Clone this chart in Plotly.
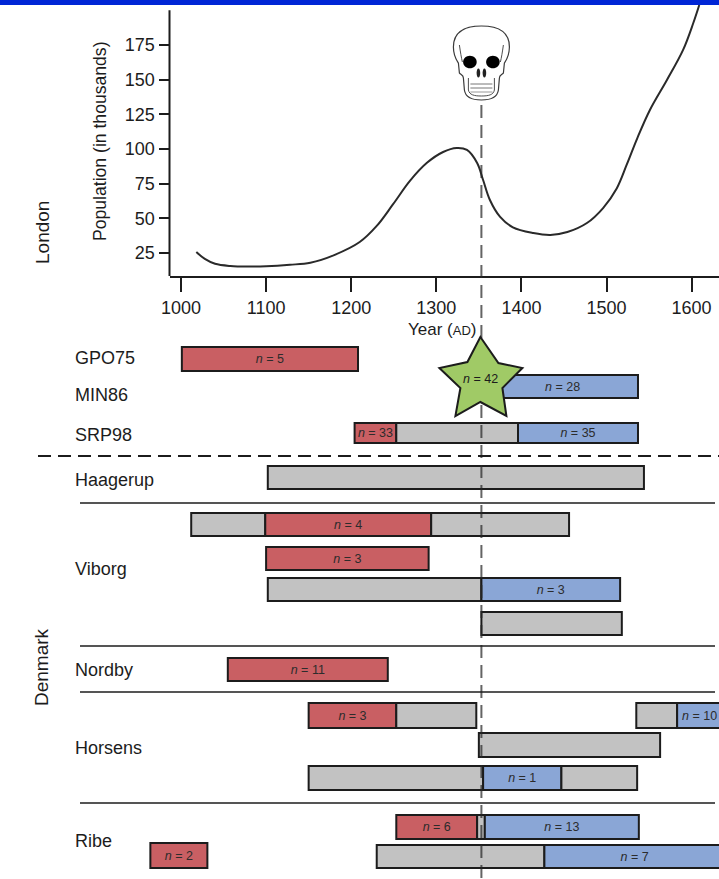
import plotly.graph_objects as go

# ---------- data ----------
years = [1018,1028,1040,1058,1081,1100,1128,1152,1180,1210,1230,1249,1269,1289,1308,1324,1336,1348,1355,1363,1375,1390,1414,1434,1454,1477,1496,1512,1524,1536,1551,1571,1590,1602,1609]
population = [25.7,20.7,17.2,15.6,15.2,15.4,16.5,18,23.5,32.9,44.5,60,77,90,97.8,100.7,99.3,89.9,77.6,63.2,51,43.5,39.4,38,40.1,46.6,57.4,71.5,89,107.5,128.1,149.7,171.4,190.8,203.8]
x_ticks = [1000,1100,1200,1300,1400,1500,1600]
y_ticks = [25,50,75,100,125,150,175]
plague_year = 1353

site_names = ["GPO75","MIN86","SRP98","Haagerup","Viborg","Nordby","Horsens","Ribe"]
bar_start = [1001,1360,1204,1253,1396,1102,1012,1099,1294,1100,1102,1353,1353,1055,1150,1253,1535,1583,1350,1150,1355,1447,1253,1348,1357,1230,1427,964]
bar_end   = [1208,1537,1253,1396,1537,1544,1099,1294,1456,1291,1353,1516,1518,1243,1253,1347,1583,1636,1563,1355,1447,1536,1348,1357,1538,1427,1639,1031]
bar_kind  = ["r","b","r","g","b","g","g","r","g","r","g","b","g","r","r","g","g","b","g","g","b","g","r","g","b","g","b","r"]
bar_n     = [5,28,33,None,35,None,None,4,None,3,None,3,None,11,3,None,None,10,None,None,1,None,6,None,13,None,7,2]
bar_track = [0,1,2,2,2,3,4,4,4,5,6,6,7,8,9,9,9,9,10,11,11,11,12,12,12,13,13,14]
star_n = 42

# ---------- layout helpers ----------
W, H = 719, 879
PX_PER_YEAR = 0.851
def year_at(px):
    return 1000 + (px - 181) / PX_PER_YEAR

track_center = [359,386.5,433,477.5,524.5,558.5,589.5,623.5,669.5,715.5,745,778,827,856.5,855.5]
track_height = [24,23,20,23,23,23,23,23,23,25,24,24,24,23,25]
colors = {"r":"#c95f63","g":"#c2c2c2","b":"#8aa6d6"}
INK = "#1c1c1c"
FONT = "Liberation Sans"

fig = go.Figure()
fig.add_trace(go.Scatter(x=years, y=population, mode="lines", xaxis="x", yaxis="y",
                         line=dict(color="#2a2a2a", width=2, shape="spline", smoothing=1.0),
                         hoverinfo="skip"))
for s, e, k, n, t in zip(bar_start, bar_end, bar_kind, bar_n, bar_track):
    fig.add_trace(go.Bar(orientation="h", base=[s], x=[e - s], y=[track_center[t]],
                         width=[track_height[t]], xaxis="x2", yaxis="y2",
                         marker=dict(color=colors[k], line=dict(color=INK, width=2)),
                         text=[f"<i>n</i> = {n}" if n is not None else ""],
                         textposition="inside", insidetextanchor="middle", textangle=0,
                         constraintext="none",
                         textfont=dict(family=FONT, size=12.5, color="#2c2c2c"),
                         hoverinfo="skip"))
fig.add_trace(go.Scatter(x=[plague_year, plague_year], y=[105, 879], mode="lines", xaxis="x2", yaxis="y2",
                         line=dict(color="rgba(40,40,40,0.72)", width=2, dash="13px,7px"), hoverinfo="skip"))

shapes = []
shapes.append(dict(type="rect", xref="paper", yref="paper", x0=0, x1=1, y0=1 - 5 / H, y1=1,
                   fillcolor="#0026d6", line_width=0, layer="above"))
shapes.append(dict(type="line", xref="paper", yref="y", x0=169.5 / W, x1=169.5 / W, y0=8.4, y1=200,
                   line=dict(color=INK, width=2)))
shapes.append(dict(type="line", xref="paper", yref="y2", x0=38 / W, x1=1, y0=456, y1=456,
                   line=dict(color=INK, width=2, dash="13px,7px")))
for yy in [503, 646, 692, 803]:
    shapes.append(dict(type="line", xref="paper", yref="y2", x0=80 / W, x1=715 / W, y0=yy, y1=yy,
                       line=dict(color=INK, width=1.5)))

# icons drawn in pixels around an anchor on the plague year
def icon(path, fill, lw=1.0, color="#3a3a3a"):
    return dict(type="path", xref="x2", yref="y2", xsizemode="pixel", ysizemode="pixel",
                xanchor=plague_year, yanchor=0, path=path, fillcolor=fill,
                line=dict(color=color, width=lw), layer="above")
def pt(dx, py):
    return f"{dx},{-py}"
def curve(cmds):
    return " ".join(c + " ".join(pt(*p) for p in pts) for c, pts in cmds)

# star
star_pts = [(-1,337),(17,363),(41,368),(21,388),(25,416),(-1,402),(-26,416),(-21,388),(-42,368),(-14,362)]
star_cmds = [("M",[star_pts[0]])] + [("L",[p]) for p in star_pts[1:]]
shapes.append(icon(curve(star_cmds) + " Z", "#a0ca66", 2, INK))

outline = curve([("M",[(-28,47)]),("C",[(-28,30),(-14,26),(0,26)]),("C",[(14,26),(28,30),(28,47)]),
                 ("C",[(28,56),(25,60),(23,63)]),("L",[(22,73)]),("C",[(20,75),(18,75),(18,78)]),
                 ("L",[(17,90)]),("C",[(16,97),(10,100),(0,100)]),("C",[(-10,100),(-16,97),(-17,90)]),
                 ("L",[(-18,78)]),("C",[(-18,75),(-20,75),(-22,73)]),("L",[(-23,63)]),
                 ("C",[(-25,60),(-28,56),(-28,47)])]) + " Z"
shapes.append(icon(outline, "#ffffff", 1.2))
def blob(cx, cy, rx, ry):
    k = 0.55
    return curve([("M",[(cx-rx,cy)]),("C",[(cx-rx,cy-k*ry),(cx-k*rx,cy-ry),(cx,cy-ry)]),
                  ("C",[(cx+k*rx,cy-ry),(cx+rx,cy-k*ry),(cx+rx,cy)]),
                  ("C",[(cx+rx,cy+k*ry),(cx+k*rx,cy+ry),(cx,cy+ry)]),
                  ("C",[(cx-k*rx,cy+ry),(cx-rx,cy+k*ry),(cx-rx,cy)])]) + " Z"
for ex in (-11.5, 11.5):
    shapes.append(icon(blob(ex, 62, 6.8, 6.3), "#000000", 0, "#000000"))
for nx in (-3, 3):
    shapes.append(icon(blob(nx, 73, 1.8, 4.5), "#222222", 0, "#222222"))
for sx in (-1, 1):
    shapes.append(icon(curve([("M",[(sx*22,45)]),("C",[(sx*21,52),(sx*20,58),(sx*19,62)])]), "rgba(0,0,0,0)", 0.9))
shapes.append(icon(curve([("M",[(-13,78)]),("L",[(-13,90)]),("C",[(-12,95),(-7,96),(0,96)]),
                          ("C",[(7,96),(12,95),(13,90)]),("L",[(13,78)])]), "rgba(0,0,0,0)", 0.9))
for ty, tc in ((84, "#777777"), (88, "#777777"), (92, "#999999")):
    shapes.append(icon(curve([("M",[(-11,ty)]),("L",[(11,ty)])]), "rgba(0,0,0,0)", 1.0, tc))

# ---------- labels ----------
ann = []
def label(text, px, py, size=18, angle=0, anchor="left"):
    ann.append(dict(text=text, xref="paper", yref="paper", x=px / W, y=1 - py / H, showarrow=False,
                    xanchor=anchor, yanchor="middle", textangle=angle, xshift=0,
                    font=dict(family=FONT, size=size, color=INK)))
site_y = [358, 395, 435, 480, 569, 670, 748, 841]
for name, py in zip(site_names, site_y):
    label(name, 73, py)
label("London", 42, 233, size=19, angle=-90, anchor="center")
label("Denmark", 41, 667, size=19, angle=-90, anchor="center")
label("Population (in thousands)", 100, 141, size=17.6, angle=-90, anchor="center")
label('Year (<span style="font-size:13px">AD</span>)', 442, 329, size=17, anchor="center")
label(f"<i>n</i> = {star_n}", 480, 379, size=12.5, anchor="center")

tickfont = dict(family=FONT, size=18, color=INK)
fig.update_layout(
    width=W, height=H, margin=dict(l=0, r=0, t=0, b=0, pad=0, autoexpand=False), autosize=False,
    paper_bgcolor="#ffffff", plot_bgcolor="rgba(0,0,0,0)", showlegend=False, barmode="overlay",
    xaxis=dict(domain=[169.5 / W, 1], range=[year_at(169.5), year_at(W)], anchor="y",
               tickmode="array", tickvals=x_ticks, ticks="outside", ticklen=14, tickwidth=1.5, tickcolor=INK,
               showline=True, linecolor=INK, linewidth=2, showgrid=False, zeroline=False, tickfont=tickfont),
    yaxis=dict(domain=[1 - 276 / H, 1], range=[8.4, 25 + 253 / 1.387], anchor="x",
               tickmode="array", tickvals=y_ticks, ticks="outside", ticklen=10, tickwidth=1.5, tickcolor=INK,
               showline=False, showgrid=False, zeroline=False, tickfont=tickfont),
    xaxis2=dict(domain=[0, 1], range=[year_at(0), year_at(W)], anchor="y2", visible=False),
    yaxis2=dict(domain=[0, 1], range=[H, 0], anchor="x2", visible=False),
    shapes=shapes, annotations=ann,
)
fig.write_html("out.html", config=dict(displayModeBar=False),
               post_script="document.body.style.margin='0';document.body.style.padding='0';document.documentElement.style.overflow='hidden';")
